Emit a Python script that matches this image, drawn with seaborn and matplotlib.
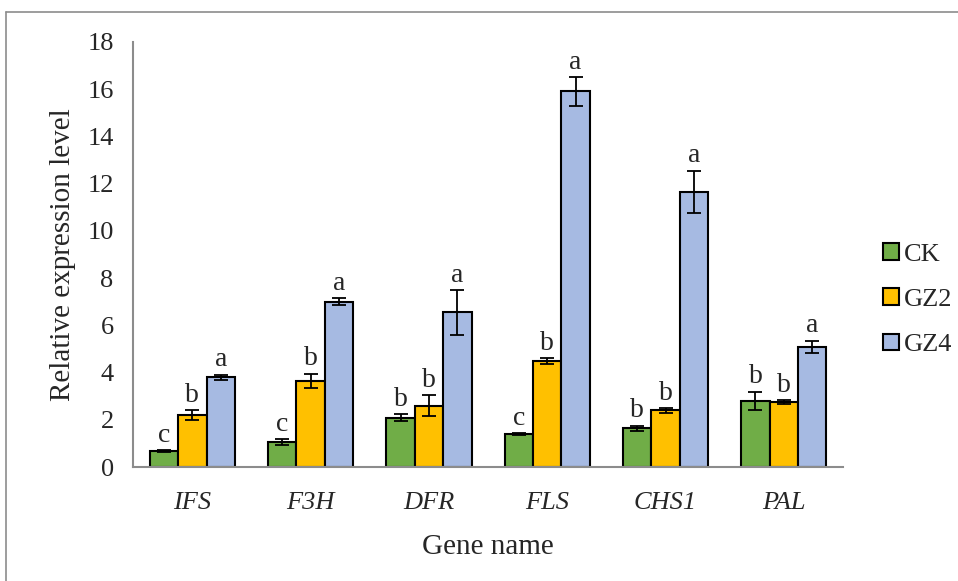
import seaborn as sns
import pandas as pd
import numpy as np
import matplotlib.pyplot as plt
from matplotlib.lines import Line2D

sns.set_style("white")
plt.rcParams['font.family'] = ['Liberation Serif', 'DejaVu Serif']

genes = ['IFS', 'F3H', 'DFR', 'FLS', 'CHS1', 'PAL']
groups = ['CK', 'GZ2', 'GZ4']
ck = [0.68, 1.05, 2.10, 1.40, 1.65, 2.80]
gz2 = [2.20, 3.65, 2.60, 4.50, 2.40, 2.75]
gz4 = [3.80, 7.00, 6.55, 15.90, 11.65, 5.10]
ck_err = [0.05, 0.12, 0.15, 0.03, 0.10, 0.40]
gz2_err = [0.20, 0.30, 0.45, 0.12, 0.10, 0.08]
gz4_err = [0.12, 0.15, 0.95, 0.60, 0.90, 0.25]
ck_sig = ['c', 'c', 'b', 'c', 'b', 'b']
gz2_sig = ['b', 'b', 'b', 'b', 'b', 'b']
gz4_sig = ['a', 'a', 'a', 'a', 'a', 'a']
colors = ['#70AD47', '#FFC000', '#A6BAE2']

df = pd.DataFrame({
    'gene': genes * 3,
    'group': [g for g in groups for _ in genes],
    'value': ck + gz2 + gz4,
    'err': ck_err + gz2_err + gz4_err,
    'sig': ck_sig + gz2_sig + gz4_sig,
})

fig = plt.figure(figsize=(9.58, 5.81), dpi=100)
ax = fig.add_axes([0.139, 0.196, 0.741, 0.732])

sns.barplot(data=df, x='gene', y='value', hue='group', palette=colors,
            saturation=1, width=0.72, gap=0, edgecolor='black', linewidth=1.5,
            errorbar=None, legend=False, ax=ax)

# error bars and significance letters, bars in hue order
bars = [p for p in ax.patches]
for p, (_, row) in zip(bars, df.iterrows()):
    xc = p.get_x() + p.get_width() / 2
    ax.errorbar(xc, row['value'], yerr=row['err'], fmt='none', ecolor='black',
                elinewidth=1.3, capsize=5, capthick=1.3, zorder=5)
    ax.text(xc, row['value'] + row['err'] + 0.1, row['sig'], ha='center',
            va='bottom', fontsize=20)

ax.set_ylim(0, 18)
ax.set_xlim(-0.5, 5.5)
ax.set_yticks(range(0, 19, 2))
ax.set_xticks(np.arange(-0.5, 6, 1), minor=False)
ax.set_xticklabels([])
ax.set_xticks(range(6), minor=True)
ax.set_xticklabels(genes, minor=True, style='italic', fontsize=19)
ax.tick_params(axis='x', which='minor', length=0, pad=18)
ax.tick_params(axis='x', which='major', direction='in', length=6, color='#8C8C8C', width=1.5)
ax.tick_params(axis='y', direction='in', length=7, color='#8C8C8C', width=1.5,
               labelsize=19, pad=14)
for s in ['top', 'right']:
    ax.spines[s].set_visible(False)
for s in ['left', 'bottom']:
    ax.spines[s].set_color('#8C8C8C')
    ax.spines[s].set_linewidth(1.5)

ax.set_xlabel('Gene name', fontsize=21, labelpad=14)
ax.set_ylabel('Relative expression level', fontsize=21, labelpad=8)

handles = [plt.Rectangle((0, 0), 1, 1, facecolor=c, edgecolor='black', linewidth=1.5)
           for c in colors]
fig.legend(handles, groups, loc='center left', bbox_to_anchor=(0.897, 0.484),
           frameon=False, fontsize=19, handlelength=0.6, handleheight=0.6,
           handletextpad=0.2, labelspacing=0.85)

# chart area border (only left and top visible in the crop)
fig.add_artist(Line2D([0.006, 0.006], [0, 0.98], transform=fig.transFigure,
                      color='#8C8C8C', linewidth=1.2))
fig.add_artist(Line2D([0.006, 1.0], [0.98, 0.98], transform=fig.transFigure,
                      color='#8C8C8C', linewidth=1.2))

fig.savefig('out.png', dpi=100)
